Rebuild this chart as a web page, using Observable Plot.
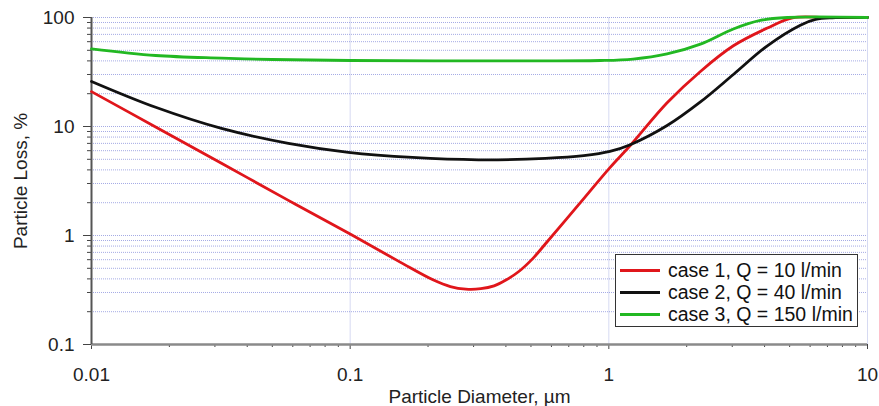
<!DOCTYPE html>
<html><head><meta charset="utf-8">
<script src="https://cdn.jsdelivr.net/npm/d3@7"></script>
<script src="https://cdn.jsdelivr.net/npm/@observablehq/plot@0.6"></script>
<style>
body{margin:0;background:#fff;font-family:Arial,"Liberation Sans",sans-serif;}
#wrap{position:relative;width:879px;height:406px;}
#legend{position:absolute;left:615px;top:254px;width:243px;height:73px;box-sizing:border-box;border:1.5px solid #333;background:#fff;padding:4px 0 0 4px;}
.row{display:flex;align-items:center;height:22px;font-size:19.5px;color:#111;white-space:nowrap;}
.sw{width:40px;height:3px;margin-right:8px;}
</style></head>
<body><div id="wrap"></div>
<script>
// Series 1: case 1, Q = 10 l/min
const diam1 = [0.01, 0.0177, 0.0318, 0.0577, 0.1, 0.156, 0.21, 0.244, 0.28, 0.32, 0.36, 0.4, 0.45, 0.51, 0.569, 0.763, 1.01, 1.21, 1.68, 2.26, 3.03, 4.1, 5.13, 7, 10];
const loss1 = [20.9, 9.9, 4.6, 2.1, 1.03, 0.57, 0.39, 0.34, 0.322, 0.325, 0.345, 0.39, 0.47, 0.62, 0.84, 1.91, 4.2, 6.7, 16.5, 32, 55, 80, 99.4, 100, 100];
// Series 2: case 2, Q = 40 l/min
const diam2 = [0.01, 0.0177, 0.0318, 0.0577, 0.0984, 0.174, 0.313, 0.569, 0.8, 1.01, 1.21, 1.68, 2.26, 3.03, 4.1, 5.5, 6.3, 7.3, 10];
const loss2 = [25.9, 15, 9.6, 7.0, 5.8, 5.2, 4.95, 5.1, 5.4, 5.9, 6.8, 10.2, 16.8, 30, 55, 85, 96, 99.5, 100];
// Series 3: case 3, Q = 150 l/min
const diam3 = [0.01, 0.0177, 0.0318, 0.05, 0.1, 0.3, 0.93, 1.24, 1.68, 2.26, 3.03, 3.85, 4.9, 10];
const loss3 = [51.6, 44.8, 42.4, 41.2, 40.3, 40, 40.3, 41.6, 46.4, 57, 78.5, 94, 100, 100];

const seriesNames = ["case 1, Q = 10 l/min", "case 2, Q = 40 l/min", "case 3, Q = 150 l/min"];
const seriesColors = ["#e0161b", "#111111", "#22b822"];

const xMajor = [0.01, 0.1, 1, 10];
const yMajor = [0.1, 1, 10, 100];
const xMinor = [];
const yMinor = [];
for (const d of [0.01, 0.1, 1]) for (let k = 2; k <= 9; k++) xMinor.push(+(d * k).toPrecision(3));
for (const d of [0.1, 1, 10]) for (let k = 2; k <= 9; k++) yMinor.push(+(d * k).toPrecision(3));
const yGrid = [...yMajor, ...yMinor];

const rows = [];
[[diam1, loss1], [diam2, loss2], [diam3, loss3]].forEach(([xs, ys], i) => {
  xs.forEach((x, j) => rows.push({d: x, loss: ys[j], series: seriesNames[i]}));
});

const chart = Plot.plot({
  width: 879, height: 406,
  marginLeft: 91, marginRight: 12, marginTop: 17, marginBottom: 62,
  style: {fontFamily: "Arial, 'Liberation Sans', sans-serif", fontSize: "19px", color: "#222", background: "#fff"},
  x: {type: "log", domain: [0.01, 10]},
  y: {type: "log", domain: [0.1, 100]},
  color: {domain: seriesNames, range: seriesColors},
  marks: [
    Plot.ruleX([0.1, 1, 10], {stroke: "#d6daf2", strokeWidth: 1}),
    Plot.ruleY(yGrid, {stroke: "#7f88d8", strokeOpacity: 0.7, strokeDasharray: "1,1", strokeWidth: 1}),
    Plot.axisY(yMajor, {tickSize: 8, tickPadding: 9, stroke: "#444", tickFormat: d => String(d),
      label: "Particle Loss, %", labelAnchor: "center", labelOffset: 78, labelArrow: "none", fontSize: 19}),
    Plot.axisY(yMinor, {tickSize: 4, stroke: "#444", tickFormat: () => "", label: null}),
    Plot.axisX(xMajor, {tickSize: 5, tickPadding: 18, stroke: "#444", tickFormat: d => String(d), fontSize: 19,
      label: "Particle Diameter, µm", labelAnchor: "center", labelOffset: 58, labelArrow: "none"}),
    Plot.axisX(xMinor, {tickSize: 3, stroke: "#444", tickFormat: () => "", label: null}),
    Plot.ruleY([0.1], {stroke: "#8a8a8a", strokeWidth: 2.5}),
    Plot.ruleX([0.01], {stroke: "#555", strokeWidth: 2}),
    Plot.line(rows, {x: "d", y: "loss", z: "series", stroke: "series", curve: "catmull-rom", strokeWidth: 2.8})
  ]
});
const wrap = document.getElementById("wrap");
wrap.appendChild(chart);

const legend = document.createElement("div");
legend.id = "legend";
seriesNames.forEach((name, i) => {
  const row = document.createElement("div");
  row.className = "row";
  const sw = document.createElement("div");
  sw.className = "sw";
  sw.style.background = seriesColors[i];
  const t = document.createElement("span");
  t.textContent = name;
  row.appendChild(sw); row.appendChild(t);
  legend.appendChild(row);
});
wrap.appendChild(legend);
</script>
</body></html>
